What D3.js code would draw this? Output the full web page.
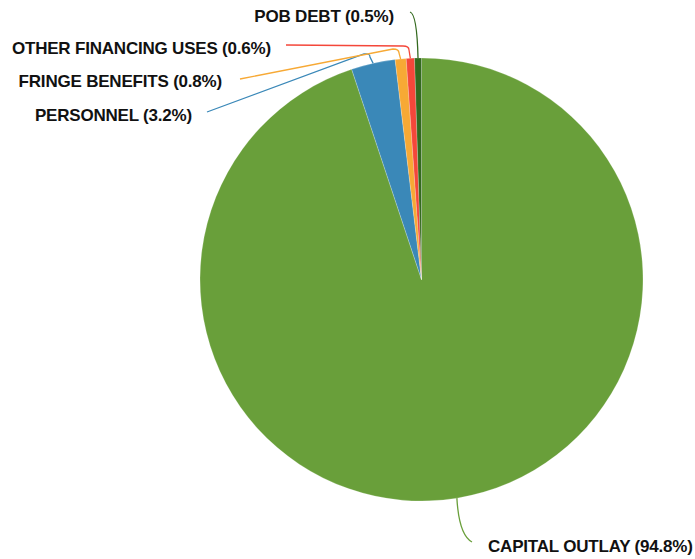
<!DOCTYPE html>
<html><head><meta charset="utf-8">
<script src="https://cdn.jsdelivr.net/npm/d3@7"></script>
<style>body{margin:0;background:#fff}svg{display:block}text{font-family:"Liberation Sans",Arial,sans-serif;font-weight:bold;font-size:17px;letter-spacing:-0.2px;fill:#111}</style>
</head><body><svg id="c" width="695" height="559"></svg>
<script>
const categories = ["CAPITAL OUTLAY","PERSONNEL","FRINGE BENEFITS","OTHER FINANCING USES","POB DEBT"];
const values = [94.8, 3.2, 0.8, 0.6, 0.5];
const colors = ["#699f3a","#3a88b8","#f7a935","#f4473a","#33691e"];
const labelLayout = [
  {tx:488, ty:546, anchor:"start", path:[[459,535],[472,542]]},
  {tx:192, ty:115, anchor:"end", corner:[[370,53],[364,54]], end:[207,112]},
  {tx:222, ty:81, anchor:"end", corner:[[399,49],[393,49]], end:[240,79]},
  {tx:271, ty:48, anchor:"end", corner:[[409,46],[403,46]], end:[286,45]},
  {tx:394, ty:16, anchor:"end", path:[[417,14],[410,12]]}
];
const cx=421.5, cy=279.5, R=221.5;
const svg=d3.select("#c");
const pie=d3.pie().sort(null).value(d=>d)(values);
const arc=d3.arc().innerRadius(0).outerRadius(R);
const g=svg.append("g").attr("transform",`translate(${cx},${cy})`);
g.selectAll("path").data(pie).join("path").attr("d",arc).attr("fill",(d,i)=>colors[i])
 .attr("stroke","rgba(255,255,255,0.35)").attr("stroke-width",0.6);
pie.forEach((d,i)=>{
  const a=(d.startAngle+d.endAngle)/2;
  const sx=cx+R*Math.sin(a), sy=cy-R*Math.cos(a);
  const L=labelLayout[i];
  const p=d3.path();
  p.moveTo(sx,sy);
  if(L.path){p.quadraticCurveTo(L.path[0][0],L.path[0][1],L.path[1][0],L.path[1][1]);}
  else{p.lineTo(L.corner[0][0],L.corner[0][1]+4);p.quadraticCurveTo(L.corner[0][0],L.corner[0][1],L.corner[1][0],L.corner[1][1]);p.lineTo(L.end[0],L.end[1]);}
  svg.append("path").attr("d",p.toString()).attr("fill","none").attr("stroke",colors[i]).attr("stroke-width",1.3);
  svg.append("text").attr("x",L.tx).attr("y",L.ty).attr("dy","0.36em").attr("text-anchor",L.anchor)
   .text(`${categories[i]} (${(values[i]).toFixed(1)}%)`);
});
</script></body></html>
